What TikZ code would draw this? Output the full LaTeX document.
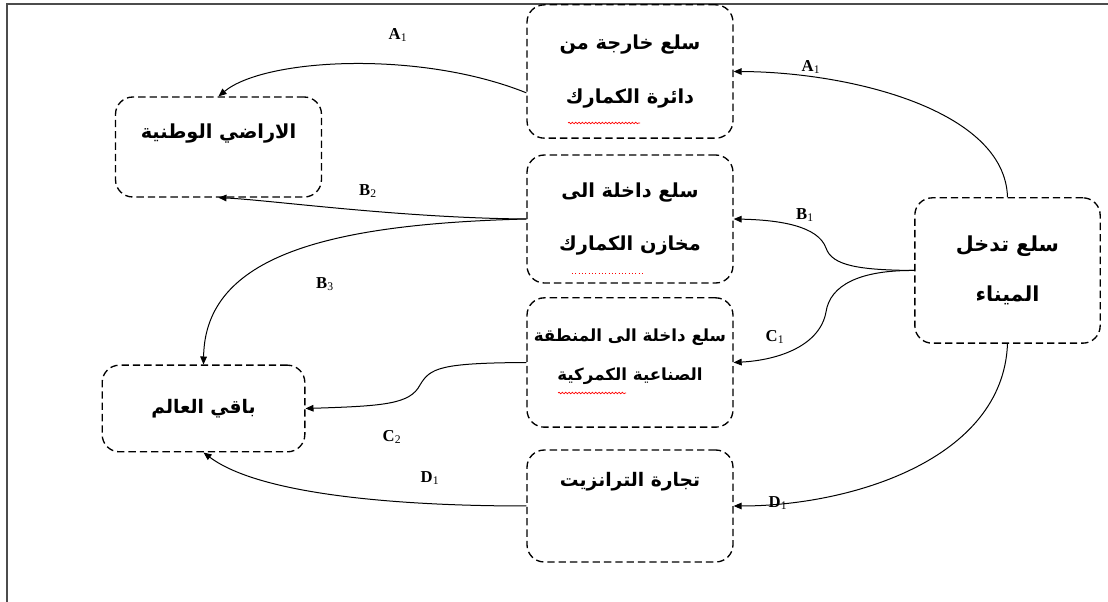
\documentclass[tikz,border=0pt]{standalone}
\usepackage{fontspec}
\newfontfamily\arabicfont[Script=Arabic]{DejaVu Sans}
\newfontfamily\labelfont{Liberation Serif}
\TeXXeTstate=1
\usetikzlibrary{arrows.meta,decorations.pathmorphing}
\newcommand{\rl}[1]{\beginR #1\endR}
\tikzset{every picture/.style={line width=0.75pt}}
\tikzset{
  box/.style={draw, dash pattern={on 5.5pt off 3pt}, rounded corners=13pt, line width=1pt,
    minimum width=154.5pt, align=center, inner sep=0pt,
    font=\arabicfont\bfseries\fontsize{14.5}{40}\selectfont},
  flow/.style={-{Triangle[length=6pt,width=5pt]}, line width=0.75pt},
  tag/.style={font=\labelfont\bfseries\fontsize{12.5}{14}\selectfont},
  typo/.style={red, line width=0.5pt, decorate, decoration={snake, amplitude=0.6pt, segment length=2.5pt}}
}

\begin{document}
\begin{tikzpicture}[x=0.75pt,y=0.75pt,yscale=-1,xscale=1]
  \useasboundingbox (0,0) rectangle (1108,602);
  % frame
  \draw [line width=1.5pt, black!70] (7,602) -- (7,4) -- (1108,4);

  % middle column
  \node [box, minimum height=100pt] (out) at (630,71.5) {\rl{سلع خارجة من}\\\rl{دائرة الكمارك}};
  \node [box, minimum height=96pt] (store) at (630,219) {\rl{سلع داخلة الى}\\\rl{مخازن الكمارك}};
  \node [box, minimum height=97pt, text depth=12pt, font=\arabicfont\bfseries\fontsize{12.5}{29}\selectfont] (zone) at (630,362.5) {\rl{سلع داخلة الى المنطقة}\\\rl{الصناعية الكمركية}};
  \node [box, minimum height=84pt, text height=14pt, text depth=43pt, font=\arabicfont\bfseries\fontsize{14}{40}\selectfont] (transit) at (630,506) {\rl{تجارة الترانزيت}};
  % left column
  \node [box, minimum height=75pt, text height=14pt, text depth=26pt] (national) at (218.5,147) {\rl{الاراضي الوطنية}};
  \node [box, minimum width=152pt, minimum height=65pt, font=\arabicfont\bfseries\fontsize{14}{40}\selectfont] (world) at (203.5,408.5) {\rl{باقي العالم}};
  % right
  \node [box, minimum width=139pt, minimum height=109pt, font=\arabicfont\bfseries\fontsize{15.5}{37.5}\selectfont] (port) at (1007.5,270.5) {\rl{سلع تدخل}\\\rl{الميناء}};

  % spelling marks
  \draw [typo] ([shift={(-62,51.5)}]out.center) -- ([shift={(10,51.5)}]out.center);
  \draw [red, line width=0.5pt, dotted] ([shift={(-58,54)}]store.center) -- ([shift={(14,54)}]store.center);
  \draw [typo] ([shift={(-72,30.5)}]zone.center) -- ([shift={(-4,30.5)}]zone.center);

  % flows out of the port
  \draw [flow] (port.north) .. controls (1005,110) and (850,72) .. (out.east);
  \draw [flow] (port.west) .. controls (860,270) and (832,266) .. (826,248) .. controls (818,226) and (780,220) .. (store.east);
  \draw [flow] (port.west) .. controls (860,270) and (830,285) .. (826,312) .. controls (820,345) and (780,360) .. (zone.east);
  \draw [flow] (port.south) .. controls (1003,460) and (850,506) .. (transit.east);
  % flows to the left
  \draw [flow] ([yshift=16pt]out.west) .. controls (420,50) and (265,58) .. (national.north);
  \draw [flow] (store.west) .. controls (400,218) and (270,200) .. (national.south);
  \draw [flow] (store.west) .. controls (330,224) and (205,255) .. (world.north);
  \draw [flow] (zone.west) .. controls (440,363) and (430,368) .. (420,385) .. controls (410,404) and (385,406) .. (world.east);
  \draw [flow] (transit.west) .. controls (400,506) and (260,495) .. (world.south);

  % labels
  \node [tag] (a1l) at (398,35) {A\textsubscript{\mdseries 1}};
  \node [tag] (a1r) at (811,67) {A\textsubscript{\mdseries 1}};
  \node [tag] (b2) at (368,191) {B\textsubscript{\mdseries 2}};
  \node [tag] (b1) at (805,215) {B\textsubscript{\mdseries 1}};
  \node [tag] (b3) at (325,284) {B\textsubscript{\mdseries 3}};
  \node [tag] (c1) at (775,337) {C\textsubscript{\mdseries 1}};
  \node [tag] (c2) at (392,437) {C\textsubscript{\mdseries 2}};
  \node [tag] (d1r) at (778,503) {D\textsubscript{\mdseries 1}};
  \node [tag] (d1l) at (430,478) {D\textsubscript{\mdseries 1}};
\end{tikzpicture}
\end{document}
